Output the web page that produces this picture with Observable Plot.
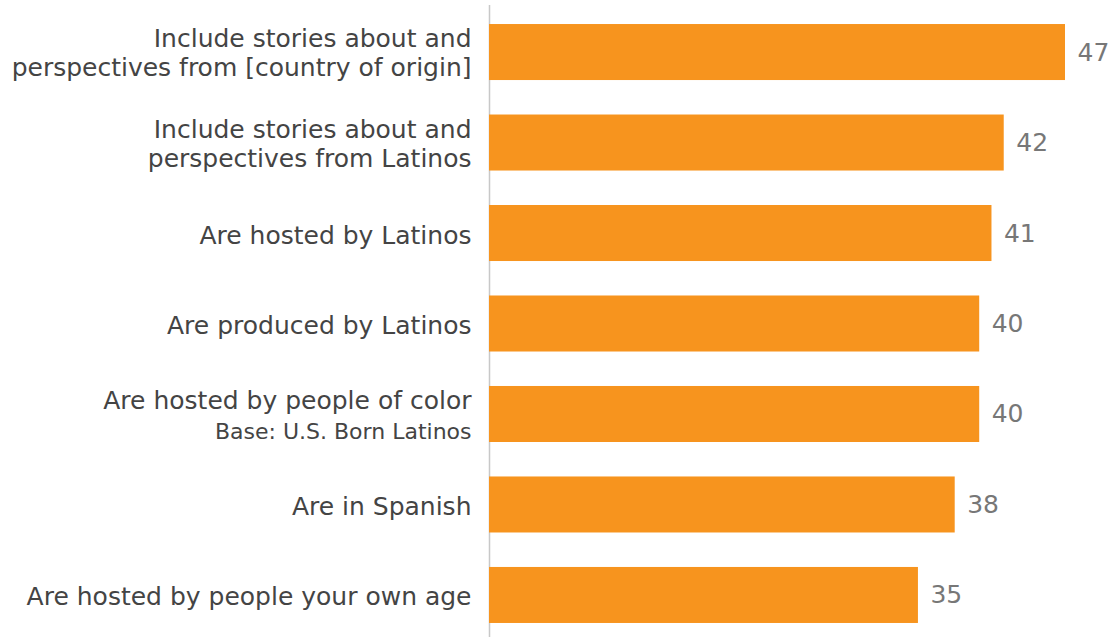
<!DOCTYPE html>
<html>
<head>
<meta charset="utf-8">
<script src="https://cdn.jsdelivr.net/npm/d3@7"></script>
<script src="https://cdn.jsdelivr.net/npm/@observablehq/plot@0.6"></script>
<style>
  html, body { margin: 0; padding: 0; background: #fff; }
  #chart { width: 1112px; height: 637px; overflow: hidden; }
</style>
</head>
<body>
<div id="chart"></div>
<script>
const categories = [
  "Include stories about and\nperspectives from [country of origin]",
  "Include stories about and\nperspectives from Latinos",
  "Are hosted by Latinos",
  "Are produced by Latinos",
  "Are hosted by people of color",
  "Are in Spanish",
  "Are hosted by people your own age"
];
const values = [47, 42, 41, 40, 40, 38, 35];
const notes = ["", "", "", "", "Base: U.S. Born Latinos", "", ""];

const data = categories.map((c, i) => ({cat: c, value: values[i], note: notes[i]}));
const withNote = data.filter(d => d.note);
const multiLine = data.filter(d => !d.note && d.cat.includes("\n"));
const singleLine = data.filter(d => !d.note && !d.cat.includes("\n"));

const font = "'DejaVu Sans', 'Open Sans', sans-serif";

const chart = Plot.plot({
  width: 1112,
  height: 637,
  marginLeft: 489,
  marginRight: 47,
  marginTop: 10,
  marginBottom: 0,
  style: {fontFamily: font, background: "#fff"},
  x: {domain: [0, 47], axis: null},
  y: {domain: categories, axis: null, paddingInner: 0.381, paddingOuter: 0.155, round: false},
  marks: [
    Plot.ruleX([0], {stroke: "#c8c8c8", strokeWidth: 1.5, insetTop: -5}),
    Plot.barX(data, {x: "value", y: "cat", fill: "#F7941E"}),
    Plot.text(data, {x: "value", y: "cat", text: d => String(d.value), textAnchor: "start", dx: 12, fill: "#777", fontSize: 25}),
    Plot.text(multiLine, {x: 0, y: "cat", text: "cat", textAnchor: "end", dx: -18, dy: 0, fill: "#444", fontSize: 25, lineHeight: 1.15}),
    Plot.text(singleLine, {x: 0, y: "cat", text: "cat", textAnchor: "end", dx: -18, dy: 2, fill: "#444", fontSize: 25}),
    Plot.text(withNote, {x: 0, y: "cat", text: "cat", textAnchor: "end", dx: -18, dy: -13, fill: "#444", fontSize: 25}),
    Plot.text(withNote, {x: 0, y: "cat", text: "note", textAnchor: "end", dx: -18, dy: 17, fill: "#444", fontSize: 22})
  ]
});
document.getElementById("chart").appendChild(chart);
</script>
</body>
</html>
